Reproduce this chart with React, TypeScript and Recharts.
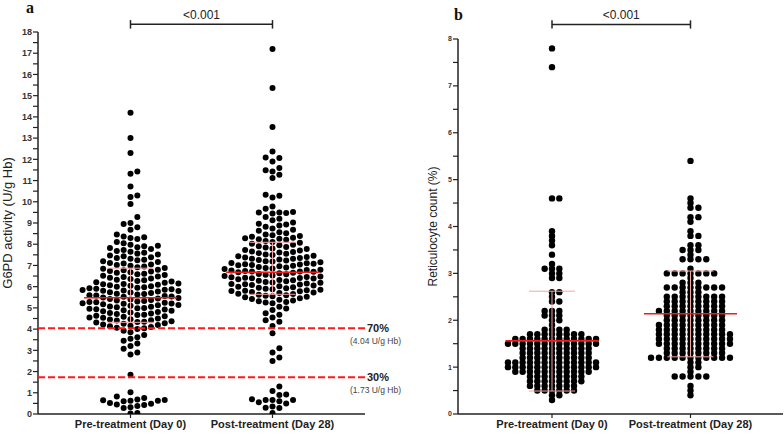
import React from 'react'
import { ScatterChart, Scatter, XAxis, YAxis, ReferenceLine } from 'recharts'

const FONT = '"Liberation Sans", Arial, sans-serif'

const CATEGORIES = ['Pre-treatment (Day 0)', 'Post-treatment (Day 28)']

// G6PD activity (U/g Hb)
const PRE_G6PD = [
  14.2, 13.0, 12.3, 11.43, 11.32, 10.72, 10.3, 10.22, 9.9, 9.28,
  9.0, 8.95, 8.8, 8.68, 8.46, 8.36, 8.33, 8.29, 8.25,
  8.1, 8.04, 7.98, 7.93, 7.9, 7.86, 7.82, 7.77, 7.73, 7.68, 7.64, 7.6,
  7.56, 7.52, 7.47, 7.43, 7.39, 7.35, 7.31, 7.27, 7.24, 7.2, 7.16, 7.12, 7.09, 7.05, 7.02,
  6.98, 6.95, 6.91, 6.88, 6.84, 6.8, 6.77, 6.74, 6.71, 6.68, 6.65, 6.61, 6.58, 6.55, 6.51, 6.48, 6.45, 6.42,
  6.39, 6.36, 6.33, 6.3, 6.27, 6.24, 6.21, 6.18, 6.15, 6.13, 6.11,
  6.09, 6.07, 6.04, 6.02, 6.0, 5.97, 5.95, 5.93, 5.9, 5.88, 5.86, 5.84, 5.82, 5.81,
  5.79, 5.77, 5.74, 5.72, 5.7, 5.67, 5.65, 5.63, 5.6, 5.58, 5.56, 5.54, 5.52,
  5.49, 5.47, 5.44, 5.42, 5.4, 5.37, 5.35, 5.33, 5.3, 5.28, 5.26, 5.24, 5.22, 5.21,
  5.19, 5.17, 5.14, 5.12, 5.1, 5.07, 5.05, 5.03, 5.0, 4.98, 4.96, 4.94, 4.92,
  4.89, 4.86, 4.84, 4.81, 4.78, 4.76, 4.73, 4.71, 4.68, 4.66, 4.63, 4.61,
  4.58, 4.55, 4.53, 4.5, 4.47, 4.45, 4.42, 4.4, 4.37, 4.35, 4.33, 4.31,
  4.28, 4.25, 4.22, 4.19, 4.16, 4.13, 4.1, 4.07, 4.04, 4.01,
  3.92, 3.85, 3.72, 3.62, 3.55, 3.45, 3.32, 3.2, 3.08, 2.9, 2.8,
  1.85,
  1.03, 0.82, 0.75, 0.68, 0.66, 0.65, 0.63, 0.62, 0.6, 0.52, 0.48, 0.45, 0.42, 0.38, 0.32, 0.28, 0.05, 0.02,
]

const POST_G6PD = [
  17.2, 15.36, 13.52, 12.37, 12.09, 12.06, 11.9, 11.59, 11.48, 11.43, 11.27, 11.12, 10.33, 10.28, 10.2, 9.78, 9.67,
  9.52, 9.5, 9.49, 9.47, 9.45, 9.28, 9.2, 9.13,
  9.02, 8.97, 8.93, 8.88, 8.82, 8.74, 8.68, 8.63, 8.57, 8.52,
  8.46, 8.42, 8.39, 8.35, 8.31, 8.28, 8.26, 8.23, 8.21,
  8.15, 8.11, 8.07, 8.02, 7.98, 7.95, 7.91,
  7.87, 7.84, 7.8, 7.77, 7.73, 7.7, 7.66, 7.63, 7.61,
  7.58, 7.55, 7.52, 7.49, 7.46, 7.43, 7.4, 7.37, 7.35, 7.32, 7.31,
  7.28, 7.26, 7.23, 7.2, 7.18, 7.15, 7.12, 7.1, 7.08, 7.06, 7.04, 7.02, 7.01,
  6.98, 6.96, 6.93, 6.9, 6.88, 6.86, 6.83, 6.8, 6.78, 6.76, 6.74, 6.72, 6.71, 6.7,
  6.68, 6.66, 6.63, 6.6, 6.58, 6.56, 6.53, 6.5, 6.48, 6.46, 6.44, 6.42, 6.41, 6.4,
  6.38, 6.35, 6.32, 6.3, 6.28, 6.25, 6.22, 6.2, 6.18, 6.15, 6.13, 6.11, 6.1,
  6.08, 6.05, 6.02, 6.0, 5.97, 5.95, 5.92, 5.9, 5.88, 5.85, 5.83, 5.81, 5.8,
  5.78, 5.75, 5.72, 5.7, 5.67, 5.65, 5.62, 5.6, 5.57, 5.55, 5.52, 5.5,
  5.46, 5.42, 5.38, 5.35, 5.31, 5.28, 5.25, 5.22,
  5.05, 4.97, 4.9, 4.75, 4.68, 4.55, 4.42, 4.35, 4.15, 3.8,
  3.1, 2.9, 2.66, 2.5,
  1.3, 1.08, 0.92, 0.9, 0.7, 0.66, 0.66, 0.66, 0.6, 0.55, 0.5, 0.35, 0.3, 0.28, 0.05,
]

// Reticulocyte count (%)
const PRE_RETIC = [
  7.8, 7.4, 4.6, 4.6,
  3.9, 3.8, 3.7, 3.6, 3.4, 3.2, 3.1, 3.1, 3.1, 3.0, 3.0, 2.9, 2.9,
  2.6, 2.6, 2.5, 2.4, 2.4, 2.2, 2.2, 2.2, 2.1, 2.1, 2.1, 2.0, 2.0, 1.9,
  1.8, 1.8, 1.8, 1.8,
  1.7, 1.7, 1.7, 1.7, 1.7, 1.7, 1.7, 1.7,
  1.6, 1.6, 1.6, 1.6, 1.6, 1.6, 1.6, 1.6, 1.6, 1.6, 1.6, 1.6,
  1.5, 1.5, 1.5, 1.5, 1.5, 1.5, 1.5, 1.5, 1.5, 1.5, 1.5, 1.5, 1.5,
  1.4, 1.4, 1.4, 1.4, 1.4, 1.4, 1.4, 1.4, 1.4, 1.4,
  1.3, 1.3, 1.3, 1.3, 1.3, 1.3, 1.3, 1.3, 1.3, 1.3,
  1.2, 1.2, 1.2, 1.2, 1.2, 1.2, 1.2, 1.2, 1.2, 1.2,
  1.1, 1.1, 1.1, 1.1, 1.1, 1.1, 1.1, 1.1, 1.1, 1.1, 1.1, 1.1, 1.1,
  1.0, 1.0, 1.0, 1.0, 1.0, 1.0, 1.0, 1.0, 1.0, 1.0, 1.0, 1.0, 1.0,
  0.9, 0.9, 0.9, 0.9, 0.9, 0.9, 0.9, 0.9, 0.9, 0.9, 0.9,
  0.8, 0.8, 0.8, 0.8, 0.8, 0.8, 0.8, 0.8,
  0.7, 0.7, 0.7, 0.7, 0.7, 0.7, 0.7, 0.7,
  0.6, 0.6, 0.6, 0.6, 0.6, 0.6, 0.6,
  0.5, 0.5, 0.5, 0.5, 0.5, 0.5,
  0.4, 0.4, 0.3,
]

const POST_RETIC = [
  5.4, 4.6, 4.5, 4.4, 4.4, 4.2, 4.2, 4.1, 3.9, 3.8, 3.8, 3.6, 3.6,
  3.5, 3.5, 3.5, 3.4, 3.3, 3.3, 3.3, 3.3, 3.1,
  3.0, 3.0, 3.0, 3.0, 3.0, 3.0, 3.0, 2.9, 2.8, 2.8, 2.8,
  2.7, 2.7, 2.7, 2.7, 2.7, 2.7, 2.7, 2.7, 2.6, 2.6, 2.6,
  2.5, 2.5, 2.5, 2.5, 2.5, 2.5, 2.5, 2.5,
  2.4, 2.4, 2.4, 2.4, 2.4, 2.4, 2.4, 2.4,
  2.3, 2.3, 2.3, 2.3, 2.3, 2.3, 2.3, 2.3,
  2.2, 2.2, 2.2, 2.2, 2.2, 2.2, 2.2, 2.2, 2.2,
  2.1, 2.1, 2.1, 2.1, 2.1, 2.1, 2.1, 2.1,
  2.0, 2.0, 2.0, 2.0, 2.0, 2.0, 2.0, 2.0,
  1.9, 1.9, 1.9, 1.9, 1.9, 1.9, 1.9, 1.9, 1.9,
  1.8, 1.8, 1.8, 1.8, 1.8, 1.8, 1.8, 1.8, 1.8,
  1.7, 1.7, 1.7, 1.7, 1.7, 1.7, 1.7, 1.7, 1.7, 1.7,
  1.6, 1.6, 1.6, 1.6, 1.6, 1.6, 1.6, 1.6, 1.6, 1.6,
  1.5, 1.5, 1.5, 1.5, 1.5, 1.5, 1.5, 1.5, 1.5, 1.5,
  1.4, 1.4, 1.4, 1.4, 1.4, 1.4, 1.4, 1.4,
  1.3, 1.3, 1.3, 1.3, 1.3, 1.3, 1.3, 1.3,
  1.2, 1.2, 1.2, 1.2, 1.2, 1.2, 1.2, 1.2, 1.2, 1.2, 1.2,
  1.1, 1.1, 1.0, 1.0, 0.9, 0.8, 0.8, 0.8, 0.8, 0.8, 0.6, 0.5, 0.4,
]

const G6PD_TICKS = [0, 0.5, 1, 1.5, 2, 2.5, 3, 3.5, 4, 4.5, 5, 5.5, 6, 6.5, 7, 7.5, 8, 8.5, 9, 9.5, 10, 10.5, 11, 11.5, 12, 12.5, 13, 13.5, 14, 14.5, 15, 15.5, 16, 16.5, 17, 17.5, 18]
const RETIC_TICKS = [0, 0.5, 1, 1.5, 2, 2.5, 3, 3.5, 4, 4.5, 5, 5.5, 6, 6.5, 7, 7.5, 8]

// mean and spread bars as drawn in the figure
const G6PD_SUMMARY = [
  { mean: 5.48, lo: 4.32, hi: 6.87 },
  { mean: 6.68, lo: 5.64, hi: 8.09 },
]
const RETIC_SUMMARY = [
  { mean: 1.56, lo: 0.49, hi: 2.62 },
  { mean: 2.14, lo: 1.22, hi: 3.05 },
]

const THRESHOLDS = [
  { y: 4.04, pct: '70%', note: '(4.04 U/g Hb)' },
  { y: 1.73, pct: '30%', note: '(1.73 U/g Hb)' },
]

// column beeswarm: each point takes the nearest free column (0, +1, -1, +2, ...)
function swarm(values: number[], center: number, minGap: number, step: number) {
  const sorted = [...values].sort((a, b) => a - b)
  const cols = new Map<number, number[]>()
  const out: { x: number; y: number }[] = []
  for (const v of sorted) {
    for (let k = 0; k < 200; k++) {
      const c = k === 0 ? 0 : k % 2 === 1 ? (k + 1) / 2 : -k / 2
      const ys = cols.get(c) || []
      if (ys.every((y) => Math.abs(y - v) >= minGap)) {
        ys.push(v)
        cols.set(c, ys)
        out.push({ x: center + c * step, y: v })
        break
      }
    }
  }
  return out
}

const catTick = (v: number) => (v === 1 ? CATEGORIES[0] : v === 2 ? CATEGORIES[1] : '')
const majorTick = (v: number) => (Number.isInteger(v) ? String(v) : '')

const axisStroke = { stroke: '#222', strokeWidth: 1.5 }
const tickStroke = { stroke: '#222', strokeWidth: 1.2 }
const noDot = () => <g />

interface PanelProps {
  width: number
  marginTop: number
  marginRight: number
  axisWidth: number
  xDomain: [number, number]
  yMax: number
  yTicks: number[]
  tickFont: number
  pre: { x: number; y: number }[]
  post: { x: number; y: number }[]
  summary: { mean: number; lo: number; hi: number }[]
  meanHalf: number
  barHalf: number
  bracketY: number
  capH: number
  title: string
  titleX: number
  titleFont: number
  r: number
  thresholds?: typeof THRESHOLDS
}

function Panel(p: PanelProps) {
  const dot = (s: any) => <circle cx={s.cx} cy={s.cy} r={p.r} fill="#000" />
  // segments drawn as two-point scatter lines so they sit on top of the dots
  const pink: { x: number; y: number }[][] = []
  const red: { x: number; y: number }[][] = []
  p.summary.forEach((s, i) => {
    const c = i + 1
    pink.push([{ x: c, y: s.lo }, { x: c, y: s.hi }])
    pink.push([{ x: c - p.barHalf, y: s.hi }, { x: c + p.barHalf, y: s.hi }])
    pink.push([{ x: c - p.barHalf, y: s.lo }, { x: c + p.barHalf, y: s.lo }])
    red.push([{ x: c - p.meanHalf, y: s.mean }, { x: c + p.meanHalf, y: s.mean }])
  })

  return (
    <ScatterChart width={p.width} height={434} margin={{ top: p.marginTop, right: p.marginRight, bottom: 0, left: 0 }}>
      <XAxis
        type="number"
        dataKey="x"
        domain={p.xDomain}
        ticks={[1, 2]}
        tickFormatter={catTick}
        allowDataOverflow
        height={20}
        axisLine={axisStroke}
        tickLine={tickStroke}
        tickSize={4}
        tickMargin={2}
        tick={{ fontSize: 11, fontWeight: 700, fill: '#222', fontFamily: FONT }}
      />
      <YAxis
        type="number"
        dataKey="y"
        domain={[0, p.yMax]}
        ticks={p.yTicks}
        interval={0}
        tickFormatter={majorTick}
        allowDataOverflow
        width={p.axisWidth}
        axisLine={axisStroke}
        tickLine={tickStroke}
        tickSize={5}
        tickMargin={1}
        tick={{ fontSize: p.tickFont, fontWeight: 700, fill: '#333', fontFamily: FONT }}
        label={{
          content: (lp: any) => {
            const vb = lp.viewBox
            const cx = vb.x + p.titleX
            const cy = vb.y + vb.height / 2
            return (
              <text x={cx} y={cy} transform={`rotate(-90 ${cx} ${cy})`} textAnchor="middle" dominantBaseline="central"
                fontSize={p.titleFont} fill="#222" fontFamily={FONT}>
                {p.title}
              </text>
            )
          },
        }}
      />

      {(p.thresholds || []).map((t) => (
        <ReferenceLine
          key={t.pct}
          y={t.y}
          stroke="none"
          label={{
            content: (lp: any) => {
              const vb = lp.viewBox
              const x = vb.x + vb.width
              return (
                <g fontFamily={FONT}>
                  <text x={x + 2} y={vb.y} dominantBaseline="central" fontSize={11} fontWeight={700} fill="#222">{t.pct}</text>
                  <text x={x - 15} y={vb.y + 13} dominantBaseline="central" fontSize={8.5} fill="#444">{t.note}</text>
                </g>
              )
            },
          }}
        />
      ))}

      <Scatter data={p.pre} shape={dot} isAnimationActive={false} />
      <Scatter data={p.post} shape={dot} isAnimationActive={false} />

      {(p.thresholds || []).map((t) => (
        <Scatter
          key={'th' + t.pct}
          data={[{ x: p.xDomain[0], y: t.y }, { x: p.xDomain[1], y: t.y }]}
          line={{ stroke: '#ff1a1a', strokeWidth: 2, strokeDasharray: '7 3' }}
          lineType="joint"
          shape={noDot}
          isAnimationActive={false}
        />
      ))}
      {pink.map((seg, i) => (
        <Scatter key={'sd' + i} data={seg} line={{ stroke: '#f4a6a6', strokeWidth: 1 }} lineType="joint" shape={noDot} isAnimationActive={false} />
      ))}
      {red.map((seg, i) => (
        <Scatter key={'m' + i} data={seg} line={{ stroke: '#ee1c1c', strokeWidth: 1.6 }} lineType="joint" shape={noDot} isAnimationActive={false} />
      ))}

      <ReferenceLine
        segment={[{ x: 1, y: p.bracketY }, { x: 2, y: p.bracketY }]}
        ifOverflow="visible"
        stroke="#222"
        strokeWidth={1.5}
        label={{ value: '<0.001', position: 'top', offset: 5, fill: '#222', fontSize: 12, fontFamily: FONT }}
      />
      <ReferenceLine segment={[{ x: 1, y: p.bracketY - p.capH }, { x: 1, y: p.bracketY + p.capH }]} ifOverflow="visible" stroke="#222" strokeWidth={1.5} />
      <ReferenceLine segment={[{ x: 2, y: p.bracketY - p.capH }, { x: 2, y: p.bracketY + p.capH }]} ifOverflow="visible" stroke="#222" strokeWidth={1.5} />
    </ScatterChart>
  )
}

export default function App() {
  const preA = swarm(PRE_G6PD, 1, 0.3, 0.0482)
  const postA = swarm(POST_G6PD, 2, 0.3, 0.0482)
  const preB = swarm(PRE_RETIC, 1, 0.05, 0.053)
  const postB = swarm(POST_RETIC, 2, 0.05, 0.057)

  return (
    <div style={{ position: 'relative', width: 784, height: 434, background: '#fff', overflow: 'hidden' }}>
      <style>{'body{margin:0}'}</style>
      <div style={{ position: 'absolute', left: 0, top: 0 }}>
        <Panel
          width={410}
          marginTop={32}
          marginRight={45}
          axisWidth={38}
          xDomain={[0.3486, 2.6514]}
          yMax={18}
          yTicks={G6PD_TICKS}
          tickFont={9}
          pre={preA}
          post={postA}
          summary={G6PD_SUMMARY}
          meanHalf={0.327}
          barHalf={0.162}
          bracketY={18.36}
          capH={0.2}
          title="G6PD activity (U/g Hb)"
          titleX={7}
          titleFont={13}
          r={3}
          thresholds={THRESHOLDS}
        />
      </div>
      <div style={{ position: 'absolute', left: 392, top: 0 }}>
        <Panel
          width={392}
          marginTop={39}
          marginRight={1}
          axisWidth={66}
          xDomain={[0.3213, 2.6679]}
          yMax={8}
          yTicks={RETIC_TICKS}
          tickFont={7}
          pre={preB}
          post={postB}
          summary={RETIC_SUMMARY}
          meanHalf={0.336}
          barHalf={0.166}
          bracketY={8.31}
          capH={0.088}
          title="Reticulocyte count (%)"
          titleX={40.5}
          titleFont={12}
          r={3.2}
        />
      </div>
      <svg width={784} height={434} style={{ position: 'absolute', left: 0, top: 0, pointerEvents: 'none' }}>
        <text x={26} y={13} fontSize={16} fontWeight={700} fontFamily='"Liberation Serif", "Times New Roman", serif' fill="#111">a</text>
        <text x={454} y={20} fontSize={16} fontWeight={700} fontFamily='"Liberation Serif", "Times New Roman", serif' fill="#111">b</text>
      </svg>
    </div>
  )
}
